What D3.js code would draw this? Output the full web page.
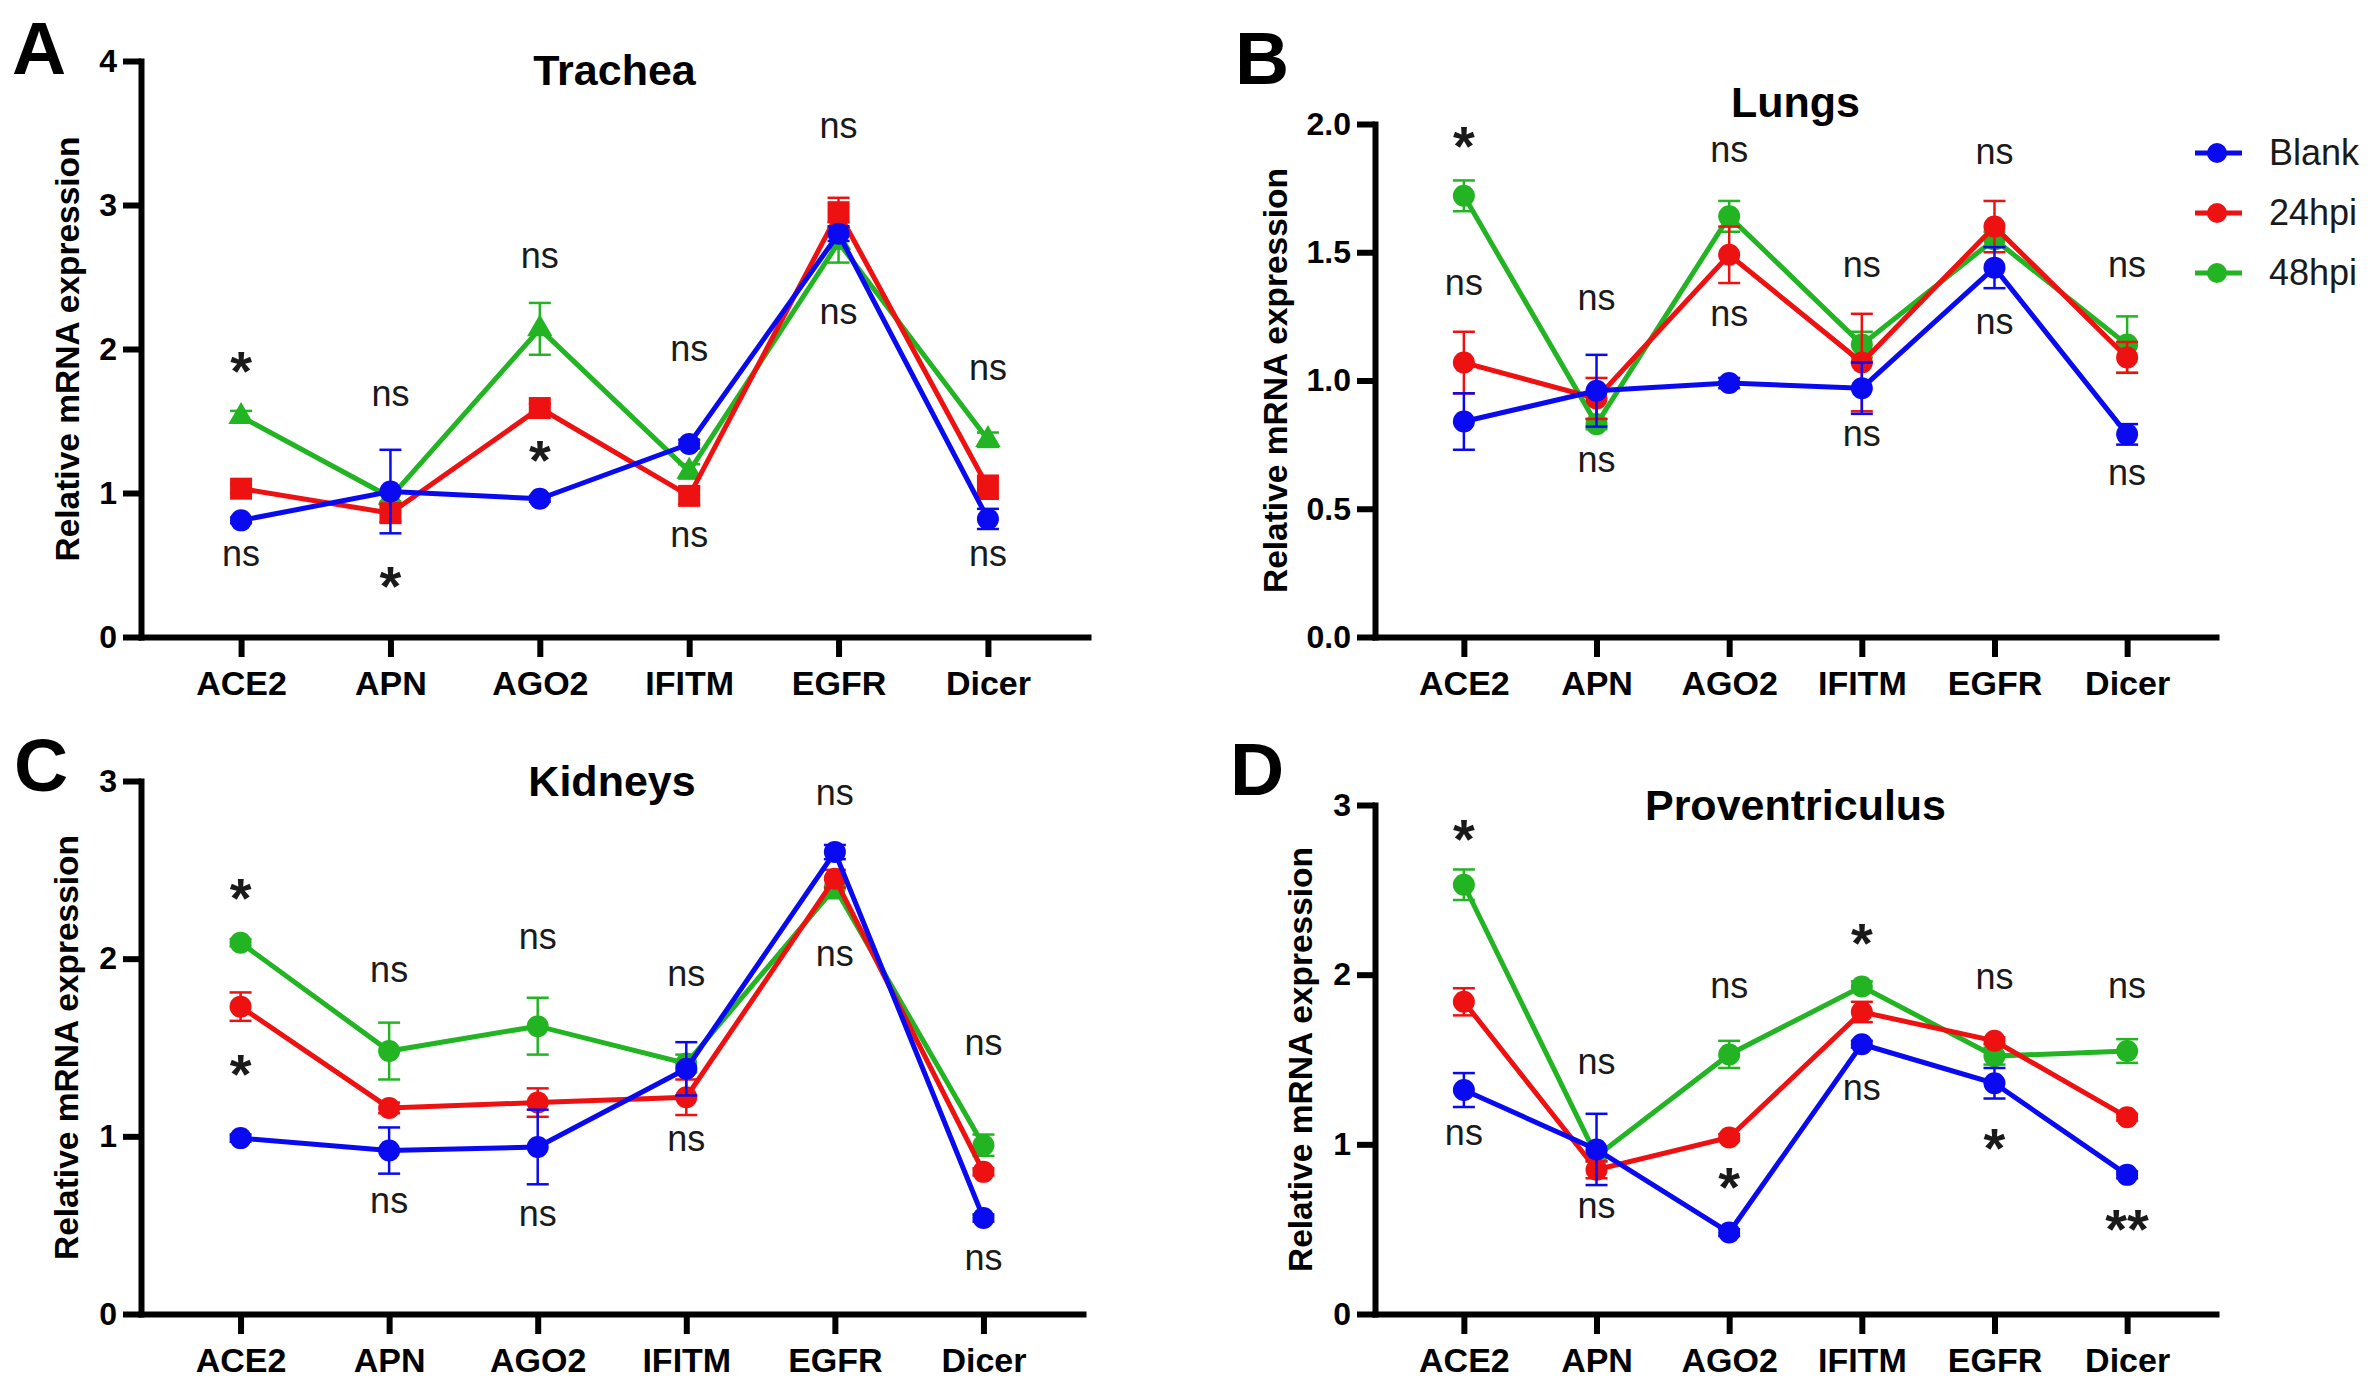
<!DOCTYPE html>
<html>
<head>
<meta charset="utf-8">
<script src="https://cdn.jsdelivr.net/npm/d3@7"></script>
<style>
body { margin: 0; background: #fff; }
svg { display: block; font-family: "Liberation Sans", Arial, sans-serif; background: #fff; }
</style>
</head>
<body>
<svg id="chart"></svg>
<script>
// categories and groups
var genes = ['ACE2', 'APN', 'AGO2', 'IFITM', 'EGFR', 'Dicer'];
var groups = ['Blank', '24hpi', '48hpi'];
var groupColors = ['#0a0af0', '#ee1111', '#22b422'];

// A - Trachea
var tracheaBlank = [0.81, 1.01, 0.96, 1.34, 2.80, 0.82];
var tracheaBlankSem = [0.02, 0.29, 0.02, 0.03, 0.05, 0.07];
var trachea24 = [1.03, 0.86, 1.59, 0.98, 2.95, 1.04];
var trachea24Sem = [0.03, 0.06, 0.03, 0.06, 0.10, 0.08];
var trachea48 = [1.53, 0.97, 2.14, 1.15, 2.74, 1.37];
var trachea48Sem = [0.04, 0.03, 0.18, 0.05, 0.14, 0.05];
var tracheaTop = ['*', 'ns', 'ns', 'ns', 'ns', 'ns'];
var tracheaTopY = [1.93, 1.67, 2.63, 1.98, 3.53, 1.85];
var tracheaLow = ['ns', '*', '*', 'ns', 'ns', 'ns'];
var tracheaLowY = [0.56, 0.44, 1.31, 0.69, 2.24, 0.56];

// B - Lungs
var lungsBlank = [0.84, 0.96, 0.99, 0.97, 1.44, 0.79];
var lungsBlankSem = [0.11, 0.14, 0.02, 0.10, 0.08, 0.04];
var lungs24 = [1.07, 0.93, 1.49, 1.07, 1.60, 1.09];
var lungs24Sem = [0.12, 0.08, 0.11, 0.19, 0.10, 0.06];
var lungs48 = [1.72, 0.83, 1.64, 1.14, 1.55, 1.14];
var lungs48Sem = [0.06, 0.02, 0.06, 0.05, 0.03, 0.11];
var lungsTop = ['*', 'ns', 'ns', 'ns', 'ns', 'ns'];
var lungsTopY = [1.96, 1.31, 1.89, 1.44, 1.88, 1.44];
var lungsLow = ['ns', 'ns', 'ns', 'ns', 'ns', 'ns'];
var lungsLowY = [1.37, 0.68, 1.25, 0.78, 1.22, 0.63];

// C - Kidneys
var kidneysBlank = [0.99, 0.92, 0.94, 1.38, 2.60, 0.54];
var kidneysBlankSem = [0.02, 0.13, 0.21, 0.15, 0.04, 0.02];
var kidneys24 = [1.73, 1.16, 1.19, 1.22, 2.45, 0.80];
var kidneys24Sem = [0.08, 0.03, 0.08, 0.10, 0.05, 0.02];
var kidneys48 = [2.09, 1.48, 1.62, 1.41, 2.40, 0.95];
var kidneys48Sem = [0.02, 0.16, 0.16, 0.05, 0.06, 0.06];
var kidneysTop = ['*', 'ns', 'ns', 'ns', 'ns', 'ns'];
var kidneysTopY = [2.41, 1.92, 2.11, 1.90, 2.92, 1.51];
var kidneysLow = ['*', 'ns', 'ns', 'ns', 'ns', 'ns'];
var kidneysLowY = [1.42, 0.62, 0.55, 0.97, 2.01, 0.30];

// D - Proventriculus
var provBlank = [1.32, 0.97, 0.48, 1.59, 1.36, 0.82];
var provBlankSem = [0.10, 0.21, 0.02, 0.02, 0.09, 0.02];
var prov24 = [1.84, 0.85, 1.04, 1.78, 1.61, 1.16];
var prov24Sem = [0.08, 0.05, 0.02, 0.06, 0.02, 0.02];
var prov48 = [2.53, 0.93, 1.53, 1.93, 1.52, 1.55];
var prov48Sem = [0.09, 0.03, 0.08, 0.03, 0.05, 0.07];
var provTop = ['*', 'ns', 'ns', '*', 'ns', 'ns'];
var provTopY = [2.87, 1.47, 1.92, 2.26, 1.97, 1.92];
var provLow = ['ns', 'ns', '*', 'ns', '*', '**'];
var provLowY = [1.05, 0.62, 0.82, 1.32, 1.05, 0.57];

// tick values
var ticks4 = [0, 1, 2, 3, 4];
var ticks2 = [0, 0.5, 1.0, 1.5, 2.0];
var ticks3 = [0, 1, 2, 3];

var W = 2377, H = 1395;
var svg = d3.select('#chart').attr('width', W).attr('height', H);

var panels = [
    { letter: 'A', title: 'Trachea', lx: 12, ly: 74, x0: 141, x1: 1088, y0: 637, y1: 61, max: 4,
      ticks: ticks4, fmt: d3.format('d'), titleY: 85, ytOff: 74, shapes: true,
      series: [[tracheaBlank, tracheaBlankSem], [trachea24, trachea24Sem], [trachea48, trachea48Sem]],
      top: [tracheaTop, tracheaTopY], low: [tracheaLow, tracheaLowY] },
    { letter: 'B', title: 'Lungs', lx: 1235, ly: 84, x0: 1375, x1: 2216, y0: 637, y1: 124, max: 2,
      ticks: ticks2, fmt: d3.format('.1f'), titleY: 117, ytOff: 100, shapes: false, legend: true,
      series: [[lungsBlank, lungsBlankSem], [lungs24, lungs24Sem], [lungs48, lungs48Sem]],
      top: [lungsTop, lungsTopY], low: [lungsLow, lungsLowY] },
    { letter: 'C', title: 'Kidneys', lx: 14, ly: 791, x0: 141, x1: 1083, y0: 1314, y1: 781, max: 3,
      ticks: ticks3, fmt: d3.format('d'), titleY: 796, ytOff: 75, shapes: false,
      series: [[kidneysBlank, kidneysBlankSem], [kidneys24, kidneys24Sem], [kidneys48, kidneys48Sem]],
      top: [kidneysTop, kidneysTopY], low: [kidneysLow, kidneysLowY] },
    { letter: 'D', title: 'Proventriculus', lx: 1230, ly: 795, x0: 1375, x1: 2216, y0: 1314, y1: 805, max: 3,
      ticks: ticks3, fmt: d3.format('d'), titleY: 820, ytOff: 75, shapes: false,
      series: [[provBlank, provBlankSem], [prov24, prov24Sem], [prov48, prov48Sem]],
      top: [provTop, provTopY], low: [provLow, provLowY] }
];

panels.forEach(function (p) {
    var g = svg.append('g');
    var x = d3.scalePoint().domain(genes).range([p.x0, p.x1]).padding(0.67);
    var y = d3.scaleLinear().domain([0, p.max]).range([p.y0, p.y1]);

    // panel letter and title
    g.append('text').attr('x', p.lx).attr('y', p.ly)
        .attr('font-size', 75).attr('font-weight', 'bold').text(p.letter);
    g.append('text').attr('x', (p.x0 + p.x1) / 2).attr('y', p.titleY)
        .attr('text-anchor', 'middle').attr('font-size', 43).attr('font-weight', 'bold')
        .text(p.title);

    // axes
    var yAxis = g.append('g').attr('transform', 'translate(' + p.x0 + ',0)')
        .call(d3.axisLeft(y).tickValues(p.ticks).tickFormat(p.fmt)
            .tickSize(18).tickSizeOuter(0).tickPadding(6));
    var xAxis = g.append('g').attr('transform', 'translate(0,' + p.y0 + ')')
        .call(d3.axisBottom(x).tickSize(20).tickSizeOuter(0).tickPadding(14));
    [yAxis, xAxis].forEach(function (a) {
        a.select('.domain').attr('stroke', '#000').attr('stroke-width', 6).attr('stroke-linecap', 'square');
        a.selectAll('.tick line').attr('stroke', '#000').attr('stroke-width', 6);
        a.selectAll('.tick text').attr('fill', '#000').attr('font-weight', 'bold')
            .attr('font-family', '"Liberation Sans", Arial, sans-serif');
    });
    yAxis.selectAll('.tick text').attr('font-size', 32);
    xAxis.selectAll('.tick text').attr('font-size', 34);

    // y axis title
    g.append('text')
        .attr('transform', 'translate(' + (p.x0 - p.ytOff) + ',' + ((p.y0 + p.y1) / 2) + ') rotate(-90)')
        .attr('text-anchor', 'middle').attr('dominant-baseline', 'central')
        .attr('font-size', 33.5).attr('font-weight', 'bold')
        .text('Relative mRNA expression');

    // series: draw 48hpi, then 24hpi, then Blank on top
    var line = d3.line()
        .x(function (d, i) { return x(genes[i]); })
        .y(function (d) { return y(d); });
    [2, 1, 0].forEach(function (si) {
        var vals = p.series[si][0], sem = p.series[si][1], col = groupColors[si];
        var sg = g.append('g');
        var eb = sg.selectAll('g.err').data(vals).enter().append('g')
            .attr('stroke', col).attr('stroke-width', 2.5);
        eb.append('line')
            .attr('x1', function (d, i) { return x(genes[i]); })
            .attr('x2', function (d, i) { return x(genes[i]); })
            .attr('y1', function (d, i) { return y(d + sem[i]); })
            .attr('y2', function (d, i) { return y(d - sem[i]); });
        [1, -1].forEach(function (sgn) {
            eb.append('line')
                .attr('x1', function (d, i) { return x(genes[i]) - 11; })
                .attr('x2', function (d, i) { return x(genes[i]) + 11; })
                .attr('y1', function (d, i) { return y(d + sgn * sem[i]); })
                .attr('y2', function (d, i) { return y(d + sgn * sem[i]); });
        });
        sg.append('path').datum(vals)
            .attr('fill', 'none').attr('stroke', col).attr('stroke-width', 5)
            .attr('d', line);
        var shape = d3.symbolCircle, size = Math.PI * 121;
        if (p.shapes && si === 1) { shape = d3.symbolSquare; size = 484; }
        if (p.shapes && si === 2) { shape = d3.symbolTriangle; size = 280; }
        sg.selectAll('path.mk').data(vals).enter().append('path')
            .attr('transform', function (d, i) { return 'translate(' + x(genes[i]) + ',' + y(d) + ')'; })
            .attr('d', d3.symbol().type(shape).size(size))
            .attr('fill', col);
    });

    // significance labels
    [p.top, p.low].forEach(function (ann) {
        g.selectAll(null).data(ann[0]).enter().append('text')
            .attr('x', function (d, i) { return x(genes[i]); })
            .attr('y', function (d, i) { return y(ann[1][i]) + (d === 'ns' ? 9.5 : 31); })
            .attr('text-anchor', 'middle')
            .attr('font-size', function (d) { return d === 'ns' ? 36 : 56; })
            .attr('font-weight', function (d) { return d === 'ns' ? 'normal' : 'bold'; })
            .attr('fill', '#1a1a1a')
            .text(function (d) { return d; });
    });

    // legend (panel B only)
    if (p.legend) {
        var lg = g.append('g');
        var rows = lg.selectAll('g').data(groups).enter().append('g')
            .attr('transform', function (d, i) { return 'translate(2195,' + (153 + i * 60) + ')'; });
        rows.append('line').attr('x1', 0).attr('x2', 47).attr('y1', 0).attr('y2', 0)
            .attr('stroke', function (d, i) { return groupColors[i]; }).attr('stroke-width', 5);
        rows.append('circle').attr('cx', 22).attr('cy', 0).attr('r', 10)
            .attr('fill', function (d, i) { return groupColors[i]; });
        rows.append('text').attr('x', 74).attr('y', 12).attr('font-size', 36)
            .attr('fill', '#1a1a1a').text(function (d) { return d; });
    }
});
</script>
</body>
</html>
